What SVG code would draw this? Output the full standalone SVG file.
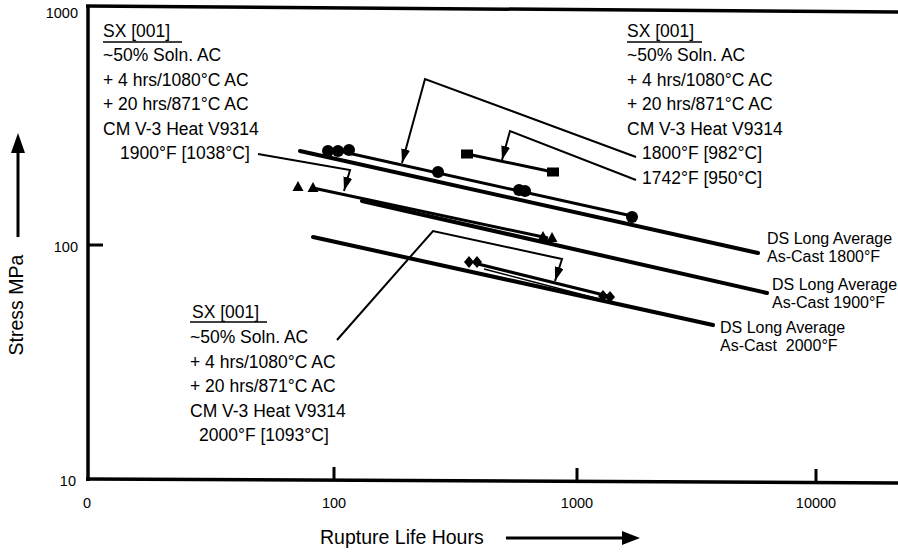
<svg xmlns="http://www.w3.org/2000/svg" width="898" height="552" viewBox="0 0 898 552">
<style>
text{font-family:"Liberation Sans",Arial,sans-serif;fill:#000}
.t{font-size:17.5px}
.ds{font-size:16px}
.tk{font-size:14.5px}
.ax{font-size:19.5px}
.axis{stroke:#000;stroke-width:3.5;fill:none}
.tick{stroke:#000;stroke-width:3;fill:none}
.dsl{stroke:#000;stroke-width:4;fill:none;stroke-linecap:round}
.dat{stroke:#000;stroke-width:3;fill:none}
.thin{stroke:#000;stroke-width:1.4;fill:none}
.ld{stroke:#000;stroke-width:2;fill:none;marker-end:url(#ah)}
.ul{stroke:#000;stroke-width:1.5}
.m{fill:#000}
</style>
<defs>
<marker id="ah" markerUnits="userSpaceOnUse" markerWidth="15" markerHeight="9" refX="14" refY="4.5" orient="auto"><path d="M0,0 L14,4.5 L0,9 Z" fill="#000"/></marker>
</defs>
<rect width="898" height="552" fill="#fff"/>
<g id="axes">
<line class="axis" x1="88" y1="5" x2="88" y2="481"/>
<line class="axis" x1="86" y1="6" x2="898" y2="12"/>
<line class="axis" x1="86" y1="479" x2="898" y2="483"/>
<line class="tick" x1="88" y1="245" x2="103" y2="245"/>
<line class="tick" x1="334" y1="480" x2="334" y2="467"/>
<line class="tick" x1="577" y1="481" x2="577" y2="468"/>
<line class="tick" x1="816" y1="482" x2="816" y2="469"/>
<text class="tk" x="78" y="18" text-anchor="end">1000</text>
<text class="tk" x="78" y="252" text-anchor="end">100</text>
<text class="tk" x="76" y="486" text-anchor="end">10</text>
<text class="tk" x="87" y="508" text-anchor="middle">0</text>
<text class="tk" x="334" y="508" text-anchor="middle">100</text>
<text class="tk" x="577" y="508" text-anchor="middle">1000</text>
<text class="tk" x="816" y="508" text-anchor="middle">10000</text>
<text class="ax" transform="translate(23,305) rotate(-90)" text-anchor="middle">Stress MPa</text>
<line class="tick" x1="18" y1="237" x2="18" y2="150"/>
<polygon class="m" points="18,133 11,153 25,153"/>
<text class="ax" x="320" y="544">Rupture Life Hours</text>
<line class="tick" x1="506" y1="538" x2="625" y2="538"/>
<polygon class="m" points="640,538 622,531 622,545"/>
</g>
<g id="node-sx-1900">
<text class="t" x="103" y="37">SX [001]</text>
<line class="ul" x1="103" y1="42" x2="182" y2="42"/>
<text class="t" x="103" y="61">~50% Soln. AC</text>
<text class="t" x="103" y="85.5">+ 4 hrs/1080°C AC</text>
<text class="t" x="103" y="110">+ 20 hrs/871°C AC</text>
<text class="t" x="103" y="134.5">CM V-3 Heat V9314</text>
<text class="t" x="120" y="159">1900°F [1038°C]</text>
</g>
<g id="node-sx-1800-1742">
<text class="t" x="627" y="37">SX [001]</text>
<line class="ul" x1="627" y1="42" x2="702" y2="42"/>
<text class="t" x="627" y="61">~50% Soln. AC</text>
<text class="t" x="627" y="85.5">+ 4 hrs/1080°C AC</text>
<text class="t" x="627" y="110">+ 20 hrs/871°C AC</text>
<text class="t" x="627" y="134.5">CM V-3 Heat V9314</text>
<text class="t" x="642" y="159">1800°F [982°C]</text>
<text class="t" x="642" y="183.5">1742°F [950°C]</text>
</g>
<g id="node-sx-2000">
<text class="t" x="192" y="318">SX [001]</text>
<line class="ul" x1="190" y1="322" x2="267" y2="322"/>
<text class="t" x="190" y="343">~50% Soln. AC</text>
<text class="t" x="190" y="367.5">+ 4 hrs/1080°C AC</text>
<text class="t" x="190" y="392">+ 20 hrs/871°C AC</text>
<text class="t" x="190" y="416.5">CM V-3 Heat V9314</text>
<text class="t" x="199" y="441">2000°F [1093°C]</text>
</g>
<g id="node-ds-1800">
<line class="dsl" x1="300" y1="151" x2="758" y2="253"/>
<text class="ds" x="767" y="244">DS Long Average</text>
<text class="ds" x="767" y="262">As-Cast 1800°F</text>
</g>
<g id="node-ds-1900">
<line class="dsl" x1="362" y1="201" x2="767" y2="293"/>
<text class="ds" x="772" y="290">DS Long Average</text>
<text class="ds" x="772" y="308">As-Cast 1900°F</text>
</g>
<g id="node-ds-2000">
<line class="dsl" x1="313" y1="237" x2="713" y2="325"/>
<text class="ds" x="720" y="333">DS Long Average</text>
<text class="ds" x="720" y="351" style="white-space:pre">As-Cast  2000°F</text>
</g>
<g id="node-data-1800">
<line class="dat" x1="330" y1="149" x2="632" y2="216"/>
<circle class="m" cx="328" cy="151" r="6"/>
<circle class="m" cx="338" cy="151" r="6"/>
<circle class="m" cx="349" cy="150" r="6"/>
<circle class="m" cx="438" cy="172" r="6"/>
<circle class="m" cx="519" cy="190" r="6"/>
<circle class="m" cx="525" cy="191" r="6"/>
<circle class="m" cx="632" cy="217" r="6"/>
</g>
<g id="node-data-1742">
<line class="dat" x1="467" y1="154" x2="553" y2="172"/>
<rect class="m" x="461" y="149.5" width="12" height="9"/>
<rect class="m" x="547" y="167.5" width="12" height="9"/>
</g>
<g id="node-data-1900">
<line class="dat" x1="313" y1="188" x2="548" y2="238"/>
<polygon class="m" points="298,181 303.5,191 292.5,191"/>
<polygon class="m" points="313,182 318.5,192 307.5,192"/>
<polygon class="m" points="543,231 548.5,241 537.5,241"/>
<polygon class="m" points="552,232 557.5,242 546.5,242"/>
</g>
<g id="node-data-2000">
<line class="dat" x1="474" y1="263" x2="608" y2="296"/>
<line class="thin" x1="484" y1="269" x2="603" y2="300"/>
<polygon class="m" points="469,256 474,262 469,268 464,262"/>
<polygon class="m" points="477,256 482,262 477,268 472,262"/>
<polygon class="m" points="603,290 608,296 603,302 598,296"/>
<polygon class="m" points="610,291 615,297 610,303 605,297"/>
</g>
<g id="connectors">
<polyline class="ld" points="258,154 350,170 344,191"/>
<polyline class="ld" points="636,157 425,79 402,163"/>
<polyline class="ld" points="636,180 510,131 502,160"/>
<polyline class="ld" points="337,340 433,231 562,259 555,281"/>
</g>
</svg>
